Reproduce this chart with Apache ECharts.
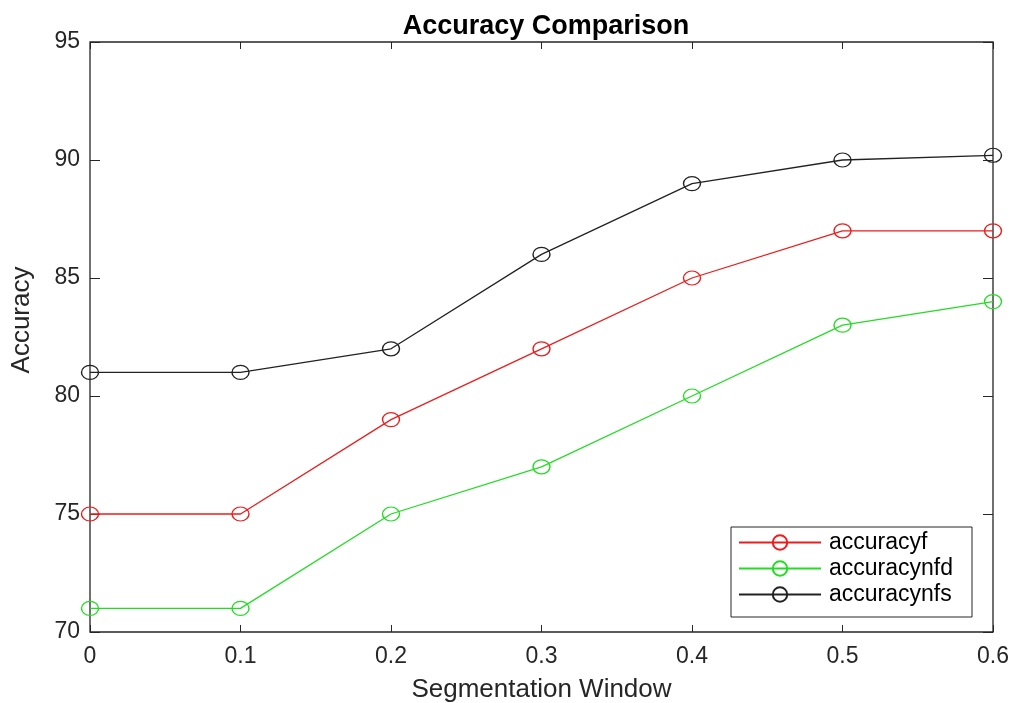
<!DOCTYPE html>
<html>
<head>
<meta charset="utf-8">
<script src="https://cdn.jsdelivr.net/npm/echarts@6/dist/echarts.min.js"></script>
<style>
  html, body { margin: 0; padding: 0; background: #fff; }
  #chart { width: 1016px; height: 703px; }
</style>
</head>
<body>
<div id="chart"></div>
<script>
var windows = [0, 0.1, 0.2, 0.3, 0.4, 0.5, 0.6];
var accuracyf = [75, 75, 79, 82, 85, 87, 87];
var accuracynfd = [71, 71, 75, 77, 80, 83, 84];
var accuracynfs = [81, 81, 82, 86, 89, 90, 90.2];
var yTicks = [70, 75, 80, 85, 90, 95];

function pairs(xs, ys) {
  return xs.map(function (x, i) { return [x, ys[i]]; });
}

var font = '"Liberation Sans", Arial, sans-serif';
var axisColor = '#262626';

function lineSeries(name, values, color) {
  return {
    name: name,
    type: 'line',
    data: pairs(windows, values),
    symbol: 'circle',
    symbolSize: [17, 14],
    lineStyle: { color: color, width: 1.3 },
    itemStyle: { color: 'rgba(0,0,0,0)', borderColor: color, borderWidth: 1.3 },
    emphasis: { disabled: true },
    z: 3
  };
}

// ticks only, the frame comes from the grid border
function tickAxis(extra) {
  var ax = {
    type: 'value',
    axisLine: { show: false, onZero: false },
    splitLine: { show: false },
    axisTick: { show: true, inside: true, length: 7, lineStyle: { color: axisColor } },
    axisLabel: { show: false }
  };
  for (var k in extra) ax[k] = extra[k];
  return ax;
}

var chart = echarts.init(document.getElementById('chart'));
var option = {
  backgroundColor: '#fff',
  animation: false,
  title: {
    text: 'Accuracy Comparison',
    left: 541,
    top: 8,
    textAlign: 'center',
    textStyle: { fontFamily: font, fontWeight: 'bold', fontSize: 27, color: '#000' }
  },
  legend: {
    orient: 'vertical',
    left: 731,
    top: 527,
    padding: [4, 19, 11, 7],
    itemGap: 3,
    itemWidth: 82,
    itemHeight: 18,
    borderColor: axisColor,
    borderWidth: 1,
    backgroundColor: '#fff',
    textStyle: { fontFamily: font, fontSize: 23, color: '#000', padding: [0, 0, 0, 3] },
    data: ['accuracyf', 'accuracynfd', 'accuracynfs']
  },
  grid: {
    left: 90, right: 23, top: 42, bottom: 71,
    outerBoundsMode: 'none',
    containLabel: false,
    show: true,
    borderColor: axisColor,
    borderWidth: 1.3
  },
  xAxis: [
    tickAxis({
      min: 0, max: 0.6, interval: 0.1,
      name: 'Segmentation Window',
      nameLocation: 'middle',
      nameGap: 45,
      nameTextStyle: { fontFamily: font, fontSize: 26, color: axisColor },
      axisLabel: {
        fontFamily: font, fontSize: 23, color: axisColor, margin: 13,
        formatter: function (v) { return String(Math.round(v * 10) / 10); }
      }
    }),
    tickAxis({ position: 'top', min: 0, max: 0.6, interval: 0.1 })
  ],
  yAxis: [
    tickAxis({
      min: yTicks[0], max: yTicks[yTicks.length - 1], interval: 5,
      name: 'Accuracy',
      nameLocation: 'middle',
      nameGap: 55,
      nameTextStyle: { fontFamily: font, fontSize: 26, color: axisColor, padding: [0, 0, 0, 34] },
      axisTick: { show: true, inside: true, length: 10, lineStyle: { color: axisColor } },
      axisLabel: { fontFamily: font, fontSize: 23, color: axisColor, margin: 10 }
    }),
    tickAxis({
      position: 'right',
      min: yTicks[0], max: yTicks[yTicks.length - 1], interval: 5,
      axisTick: { show: true, inside: true, length: 10, lineStyle: { color: axisColor } }
    })
  ],
  series: [
    lineSeries('accuracyf', accuracyf, '#ee1c1c'),
    lineSeries('accuracynfd', accuracynfd, '#22dd22'),
    lineSeries('accuracynfs', accuracynfs, '#222222')
  ]
};
chart.setOption(option);
</script>
</body>
</html>
